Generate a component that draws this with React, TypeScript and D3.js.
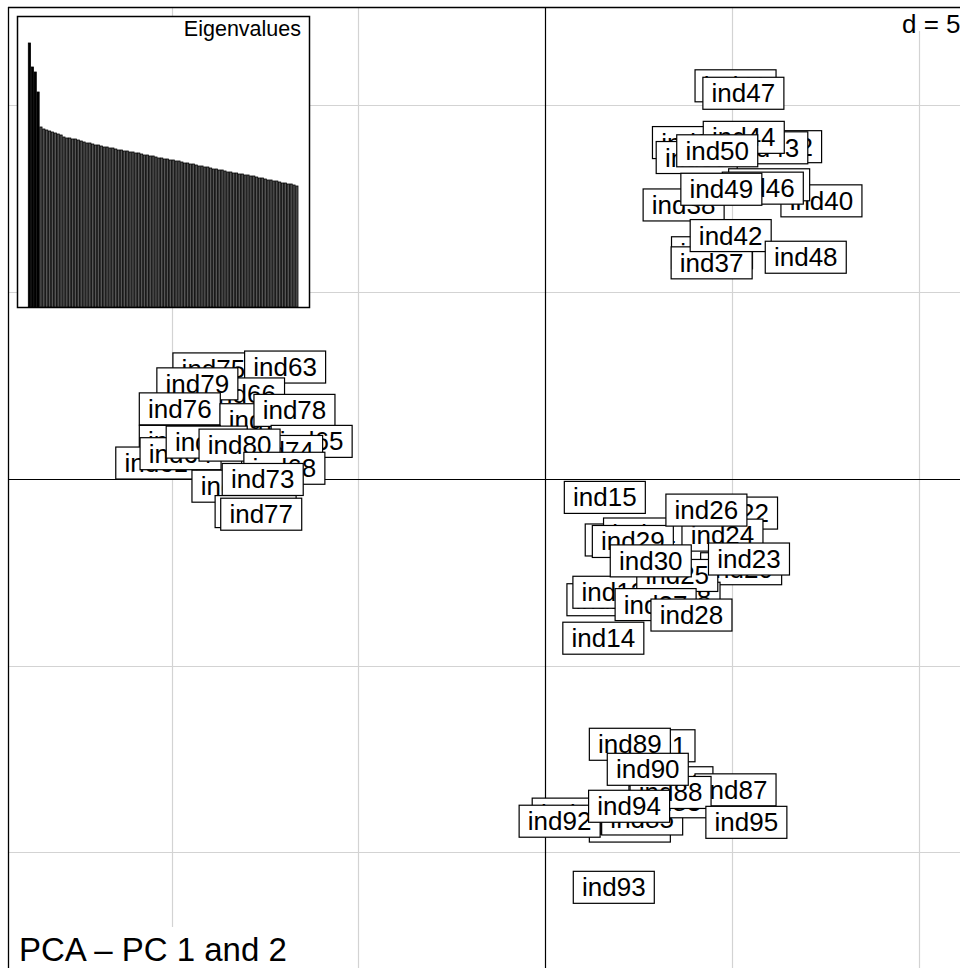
import { useRef, useEffect } from "react";
import * as d3 from "d3";

// individuals, listed in the order they are drawn (later ones sit on top)
const labels = [
  "ind32", "ind43", "ind35", "ind39", "ind41", "ind47", "ind44", "ind50", "ind40", "ind38",
  "ind45", "ind46", "ind49", "ind36", "ind37", "ind42", "ind48",
  "ind75", "ind63", "ind66", "ind79", "ind76", "ind70", "ind78", "ind62", "ind61",
  "ind64", "ind69", "ind65", "ind74", "ind80", "ind68", "ind71", "ind73", "ind72", "ind77",
  "ind15", "ind22", "ind19", "ind21", "ind29", "ind24", "ind26", "ind20", "ind16", "ind13",
  "ind18", "ind25", "ind30", "ind23", "ind27", "ind28", "ind14",
  "ind91", "ind89", "ind86", "ind82", "ind84", "ind85", "ind87", "ind83", "ind88", "ind90",
  "ind92", "ind94", "ind95", "ind93",
];

const pc1 = [
  6.32, 5.95, 3.96, 4.06, 5.1, 5.31, 5.32, 4.61, 7.4, 3.71,
  6.0, 5.83, 4.72, 4.47, 4.46, 4.97, 6.98,
  -8.88, -6.96, -8.06, -9.31, -9.78, -7.62, -6.71, -9.78, -10.41,
  -9.76, -9.06, -6.25, -7.04, -8.18, -6.98, -8.37, -7.56, -7.75, -7.6,
  1.6, 5.14, 2.16, 2.65, 2.35, 4.75, 4.32, 5.25, 1.67, 1.83,
  3.6, 3.54, 2.83, 5.46, 2.96, 3.92, 1.56,
  2.93, 2.27, 3.41, 0.74, 2.27, 2.6, 5.1, 3.33, 3.36, 2.75,
  0.39, 2.25, 5.39, 1.84,
];

const pc2 = [
  8.92, 8.89, 9.03, 8.63, 10.55, 10.35, 9.17, 8.81, 7.47, 7.36,
  7.9, 7.81, 7.78, 6.08, 5.81, 6.54, 5.96,
  2.97, 3.02, 2.3, 2.57, 1.9, 1.61, 1.86, 1.03, 0.45,
  0.7, 1.01, 1.03, 0.76, 0.93, 0.31, -0.17, 0.01, -0.85, -0.92,
  -0.47, -0.89, -1.61, -1.45, -1.65, -1.48, -0.81, -2.38, -3.21, -3.01,
  -3.17, -2.56, -2.17, -2.12, -3.34, -3.62, -4.24,
  -7.12, -7.08, -8.11, -8.95, -9.27, -9.08, -8.3, -8.62, -8.37, -7.75,
  -9.14, -8.74, -9.17, -10.91,
];

const eigenvalues = [
  26.4, 24.0, 23.5, 21.5, 18.0, 17.8, 17.7, 17.6, 17.5, 17.4,
  17.3, 17.2, 17.0, 16.9, 16.9, 16.8, 16.8, 16.7, 16.6, 16.5,
  16.4, 16.4, 16.3, 16.2, 16.2, 16.1, 16.0, 16.0, 15.9, 15.9,
  15.8, 15.7, 15.7, 15.6, 15.6, 15.5, 15.5, 15.4, 15.4, 15.3,
  15.2, 15.2, 15.1, 15.1, 15.0, 14.9, 14.9, 14.8, 14.8, 14.7,
  14.7, 14.6, 14.6, 14.5, 14.4, 14.4, 14.3, 14.3, 14.2, 14.1,
  14.1, 14.0, 14.0, 13.9, 13.8, 13.8, 13.7, 13.7, 13.6, 13.5,
  13.5, 13.4, 13.4, 13.3, 13.3, 13.2, 13.2, 13.1, 13.1, 13.0,
  12.9, 12.9, 12.8, 12.7, 12.7, 12.6, 12.6, 12.5, 12.4, 12.4,
  12.3, 12.3, 12.2, 12.1,
];
const retainedAxes = 4;

const gridTicks = [-10, -5, 0, 5, 10];
const gridStep = "d = 5";
const title = "PCA \u2013 PC 1 and 2";

const WIDTH = 960;
const HEIGHT = 968;
const FONT = "'Liberation Sans', Arial, Helvetica, sans-serif";

const PcaScatter = () => {
  const svgRef = useRef<SVGSVGElement>(null);

  useEffect(() => {
    const svg = d3.select(svgRef.current);
    svg.selectAll("*").remove();

    const x = d3.scaleLinear().domain([-14.38, 11.11]).range([8, WIDTH]);
    const y = d3.scaleLinear().domain([-13.07, 12.66]).range([HEIGHT, 7]);
    const px = (v: number) => Math.round(x(v)) + 0.5;
    const py = (v: number) => Math.round(y(v)) - 0.5;

    svg.append("rect").attr("width", WIDTH).attr("height", HEIGHT).attr("fill", "#fff");

    // grid
    const gridColor = "#d3d3d3";
    svg.selectAll(".grid-x")
      .data(gridTicks.filter((t) => t !== 0))
      .enter()
      .append("line")
      .attr("x1", (d) => px(d))
      .attr("x2", (d) => px(d))
      .attr("y1", 7)
      .attr("y2", HEIGHT)
      .attr("stroke", gridColor)
      .attr("stroke-width", 1.2);

    svg.selectAll(".grid-y")
      .data(gridTicks.filter((t) => t !== 0))
      .enter()
      .append("line")
      .attr("x1", 8)
      .attr("x2", WIDTH)
      .attr("y1", (d) => py(d))
      .attr("y2", (d) => py(d))
      .attr("stroke", gridColor)
      .attr("stroke-width", 1.2);

    // axes through the origin
    svg.append("line")
      .attr("x1", px(0)).attr("x2", px(0))
      .attr("y1", 7).attr("y2", HEIGHT)
      .attr("stroke", "#000").attr("stroke-width", 1.2);
    svg.append("line")
      .attr("x1", 8).attr("x2", WIDTH)
      .attr("y1", py(0)).attr("y2", py(0))
      .attr("stroke", "#000").attr("stroke-width", 1.2);

    // labels with boxes
    const boxW = 81;
    const boxH = 32;
    const g = svg.append("g");
    labels.forEach((name, i) => {
      const lg = g.append("g").attr("transform", `translate(${x(pc1[i])},${y(pc2[i])})`);
      lg.append("rect")
        .attr("x", -boxW / 2)
        .attr("y", -boxH / 2)
        .attr("width", boxW)
        .attr("height", boxH)
        .attr("fill", "#fff")
        .attr("stroke", "#000")
        .attr("stroke-width", 1.2);
      lg.append("text")
        .attr("text-anchor", "middle")
        .attr("y", 9)
        .style("font-family", FONT)
        .style("font-size", "26px")
        .attr("fill", "#000")
        .text(name);
    });

    // eigenvalue inset
    const inset = { left: 17, top: 16, right: 309, bottom: 307 };
    svg.append("rect")
      .attr("x", inset.left + 0.5)
      .attr("y", inset.top + 0.5)
      .attr("width", inset.right - inset.left)
      .attr("height", inset.bottom - inset.top)
      .attr("fill", "#fff")
      .attr("stroke", "#000")
      .attr("stroke-width", 1.5);

    const xb = d3
      .scaleBand<number>()
      .domain(eigenvalues.map((_, i) => i))
      .range([28.3, 298])
      .paddingInner(0.22);
    const yb = d3
      .scaleLinear()
      .domain([0, d3.max(eigenvalues) as number])
      .range([inset.bottom, 43]);

    svg.append("g")
      .selectAll("rect")
      .data(eigenvalues)
      .enter()
      .append("rect")
      .attr("x", (_, i) => xb(i) as number)
      .attr("y", (d) => yb(d))
      .attr("width", xb.bandwidth())
      .attr("height", (d) => inset.bottom - yb(d))
      .attr("fill", (_, i) => (i < retainedAxes ? "#000" : "#555"))
      .attr("stroke", "#000")
      .attr("stroke-width", 0.8);

    svg.append("text")
      .attr("x", 301)
      .attr("y", 36)
      .attr("text-anchor", "end")
      .style("font-family", FONT)
      .style("font-size", "21.5px")
      .text("Eigenvalues");

    // grid step box
    svg.append("rect").attr("x", 896).attr("y", 8).attr("width", 64).attr("height", 23).attr("fill", "#fff");
    svg.append("text")
      .attr("x", 902)
      .attr("y", 33)
      .style("font-family", FONT)
      .style("font-size", "26px")
      .text(gridStep);

    // title box
    svg.append("rect").attr("x", 9).attr("y", 927).attr("width", 292).attr("height", 41).attr("fill", "#fff");
    svg.append("text")
      .attr("x", 19)
      .attr("y", 961)
      .style("font-family", FONT)
      .style("font-size", "33px")
      .text(title);

    // outer frame (right and bottom edges fall outside the picture)
    svg.append("line").attr("x1", 8.5).attr("x2", 8.5).attr("y1", 7).attr("y2", HEIGHT).attr("stroke", "#000").attr("stroke-width", 1.3);
    svg.append("line").attr("x1", 8).attr("x2", WIDTH).attr("y1", 7.5).attr("y2", 7.5).attr("stroke", "#000").attr("stroke-width", 1.3);
  }, []);

  return (
    <svg
      ref={svgRef}
      width={WIDTH}
      height={HEIGHT}
      style={{ position: "absolute", left: 0, top: 0, display: "block" }}
    />
  );
};

export default function App() {
  return <PcaScatter />;
}
